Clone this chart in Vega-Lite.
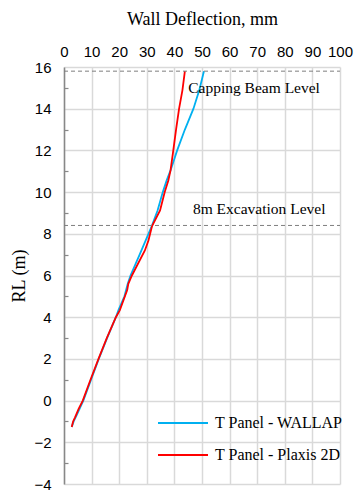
{
  "$schema": "https://vega.github.io/schema/vega-lite/v6.json",
  "width": 276,
  "height": 417,
  "autosize": {"type": "none"},
  "padding": {"left": 64, "top": 67, "right": 17, "bottom": 11},
  "background": "white",
  "config": {"view": {"stroke": null}},
  "datasets": {
    "curves": [
      {"series": "T Panel - WALLAP", "rl": -1.27, "defl": 2.8},
      {"series": "T Panel - WALLAP", "rl": -1.0, "defl": 3.5},
      {"series": "T Panel - WALLAP", "rl": -0.7, "defl": 4.6},
      {"series": "T Panel - WALLAP", "rl": 0.0, "defl": 7.0},
      {"series": "T Panel - WALLAP", "rl": 1.0, "defl": 9.8},
      {"series": "T Panel - WALLAP", "rl": 2.0, "defl": 12.6},
      {"series": "T Panel - WALLAP", "rl": 3.0, "defl": 15.6},
      {"series": "T Panel - WALLAP", "rl": 4.0, "defl": 18.8},
      {"series": "T Panel - WALLAP", "rl": 4.33, "defl": 19.7},
      {"series": "T Panel - WALLAP", "rl": 5.0, "defl": 21.9},
      {"series": "T Panel - WALLAP", "rl": 5.6, "defl": 23.1},
      {"series": "T Panel - WALLAP", "rl": 6.0, "defl": 24.1},
      {"series": "T Panel - WALLAP", "rl": 7.0, "defl": 27.4},
      {"series": "T Panel - WALLAP", "rl": 7.68, "defl": 29.6},
      {"series": "T Panel - WALLAP", "rl": 8.37, "defl": 31.8},
      {"series": "T Panel - WALLAP", "rl": 9.12, "defl": 33.9},
      {"series": "T Panel - WALLAP", "rl": 10.0, "defl": 35.8},
      {"series": "T Panel - WALLAP", "rl": 10.56, "defl": 37.2},
      {"series": "T Panel - WALLAP", "rl": 11.04, "defl": 38.6},
      {"series": "T Panel - WALLAP", "rl": 12.0, "defl": 41.0},
      {"series": "T Panel - WALLAP", "rl": 13.0, "defl": 43.8},
      {"series": "T Panel - WALLAP", "rl": 14.0, "defl": 46.9},
      {"series": "T Panel - WALLAP", "rl": 14.88, "defl": 49.0},
      {"series": "T Panel - WALLAP", "rl": 15.8, "defl": 50.7},
      {"series": "T Panel - Plaxis 2D", "rl": -1.27, "defl": 2.8},
      {"series": "T Panel - Plaxis 2D", "rl": -1.0, "defl": 3.3},
      {"series": "T Panel - Plaxis 2D", "rl": -0.8, "defl": 4.0},
      {"series": "T Panel - Plaxis 2D", "rl": -0.4, "defl": 5.3},
      {"series": "T Panel - Plaxis 2D", "rl": 0.0, "defl": 6.8},
      {"series": "T Panel - Plaxis 2D", "rl": 1.0, "defl": 9.6},
      {"series": "T Panel - Plaxis 2D", "rl": 2.0, "defl": 12.5},
      {"series": "T Panel - Plaxis 2D", "rl": 3.0, "defl": 15.5},
      {"series": "T Panel - Plaxis 2D", "rl": 4.0, "defl": 18.8},
      {"series": "T Panel - Plaxis 2D", "rl": 4.33, "defl": 20.2},
      {"series": "T Panel - Plaxis 2D", "rl": 5.3, "defl": 22.9},
      {"series": "T Panel - Plaxis 2D", "rl": 5.6, "defl": 23.3},
      {"series": "T Panel - Plaxis 2D", "rl": 6.0, "defl": 24.6},
      {"series": "T Panel - Plaxis 2D", "rl": 7.2, "defl": 29.3},
      {"series": "T Panel - Plaxis 2D", "rl": 7.68, "defl": 30.6},
      {"series": "T Panel - Plaxis 2D", "rl": 8.37, "defl": 31.9},
      {"series": "T Panel - Plaxis 2D", "rl": 9.12, "defl": 34.8},
      {"series": "T Panel - Plaxis 2D", "rl": 10.0, "defl": 36.5},
      {"series": "T Panel - Plaxis 2D", "rl": 10.56, "defl": 37.8},
      {"series": "T Panel - Plaxis 2D", "rl": 11.04, "defl": 38.6},
      {"series": "T Panel - Plaxis 2D", "rl": 12.0, "defl": 39.6},
      {"series": "T Panel - Plaxis 2D", "rl": 13.0, "defl": 40.6},
      {"series": "T Panel - Plaxis 2D", "rl": 14.0, "defl": 41.7},
      {"series": "T Panel - Plaxis 2D", "rl": 14.88, "defl": 42.9},
      {"series": "T Panel - Plaxis 2D", "rl": 15.8, "defl": 43.8}
    ],
    "levels": [{"rl": 15.8, "defl": 0, "defl2": 100}, {"rl": 8.4, "defl": 0, "defl2": 100}],
    "notes": [
      {"label": "Capping Beam Level", "defl": 45, "rl": 15.0},
      {"label": "8m Excavation  Level", "defl": 46.7, "rl": 9.2}
    ]
  },
  "encoding": {
    "x": {
      "field": "defl", "type": "quantitative",
      "scale": {"domain": [0, 100], "nice": false},
      "axis": {
        "orient": "top", "title": "Wall Deflection, mm",
        "values": [0, 10, 20, 30, 40, 50, 60, 70, 80, 90, 100],
        "titleFont": "Liberation Serif", "titleFontSize": 18, "titleFontWeight": "normal", "titleColor": "#000",
        "titlePadding": 16,
        "labelFont": "Liberation Sans", "labelFontSize": 15, "labelColor": "#000", "labelPadding": 8,
        "labelOverlap": false, "labelBound": false, "labelFlush": false,
        "domain": false, "ticks": false,
        "grid": true, "gridColor": "#d9d9d9", "gridWidth": 1.5
      }
    },
    "y": {
      "field": "rl", "type": "quantitative",
      "scale": {"domain": [-4, 16], "nice": false},
      "axis": {
        "title": "RL (m)",
        "values": [-4, -3, -2, -1, 0, 1, 2, 3, 4, 5, 6, 7, 8, 9, 10, 11, 12, 13, 14, 15, 16],
        "labelExpr": "datum.value % 2 === 0 ? datum.label : ''",
        "titleFont": "Liberation Serif", "titleFontSize": 18, "titleFontWeight": "normal", "titleColor": "#000",
        "titlePadding": 5,
        "labelFont": "Liberation Sans", "labelFontSize": 15, "labelColor": "#000", "labelPadding": 17,
        "labelOverlap": false, "labelBound": false, "labelFlush": false,
        "domainColor": "#888", "domainWidth": 1.5,
        "tickSize": -4, "tickWidth": 1.2,
        "tickColor": {"condition": {"test": "datum.value % 2 === 0", "value": "transparent"}, "value": "#888"},
        "grid": true,
        "gridColor": {"condition": {"test": "datum.value % 2 !== 0", "value": "transparent"}, "value": "#d9d9d9"},
        "gridWidth": 1.5
      }
    }
  },
  "layer": [
    {
      "data": {"name": "curves"},
      "mark": {"type": "line", "strokeWidth": 1.8},
      "encoding": {
        "order": {"field": "rl", "type": "quantitative"},
        "color": {
          "field": "series", "type": "nominal",
          "scale": {"domain": ["T Panel - WALLAP", "T Panel - Plaxis 2D"], "range": ["#00B0F0", "#FF0000"]},
          "legend": {
            "orient": "none", "legendX": 93, "legendY": 348, "title": null,
            "symbolType": "stroke", "symbolSize": 2500, "symbolStrokeWidth": 2,
            "labelFont": "Liberation Serif", "labelFontSize": 16, "labelColor": "#000", "labelOffset": 6,
            "clipHeight": 16, "rowPadding": 16, "labelLimit": 300
          }
        }
      }
    },
    {
      "data": {"name": "levels"},
      "mark": {"type": "rule", "color": "#7f7f7f", "strokeDash": [4, 3], "strokeWidth": 1},
      "encoding": {
        "x2": {"field": "defl2"}
      }
    },
    {
      "data": {"name": "notes"},
      "mark": {"type": "text", "align": "left", "baseline": "middle", "font": "Liberation Serif", "fontSize": 15.5, "color": "#000"},
      "encoding": {
        "text": {"field": "label"}
      }
    }
  ]
}
